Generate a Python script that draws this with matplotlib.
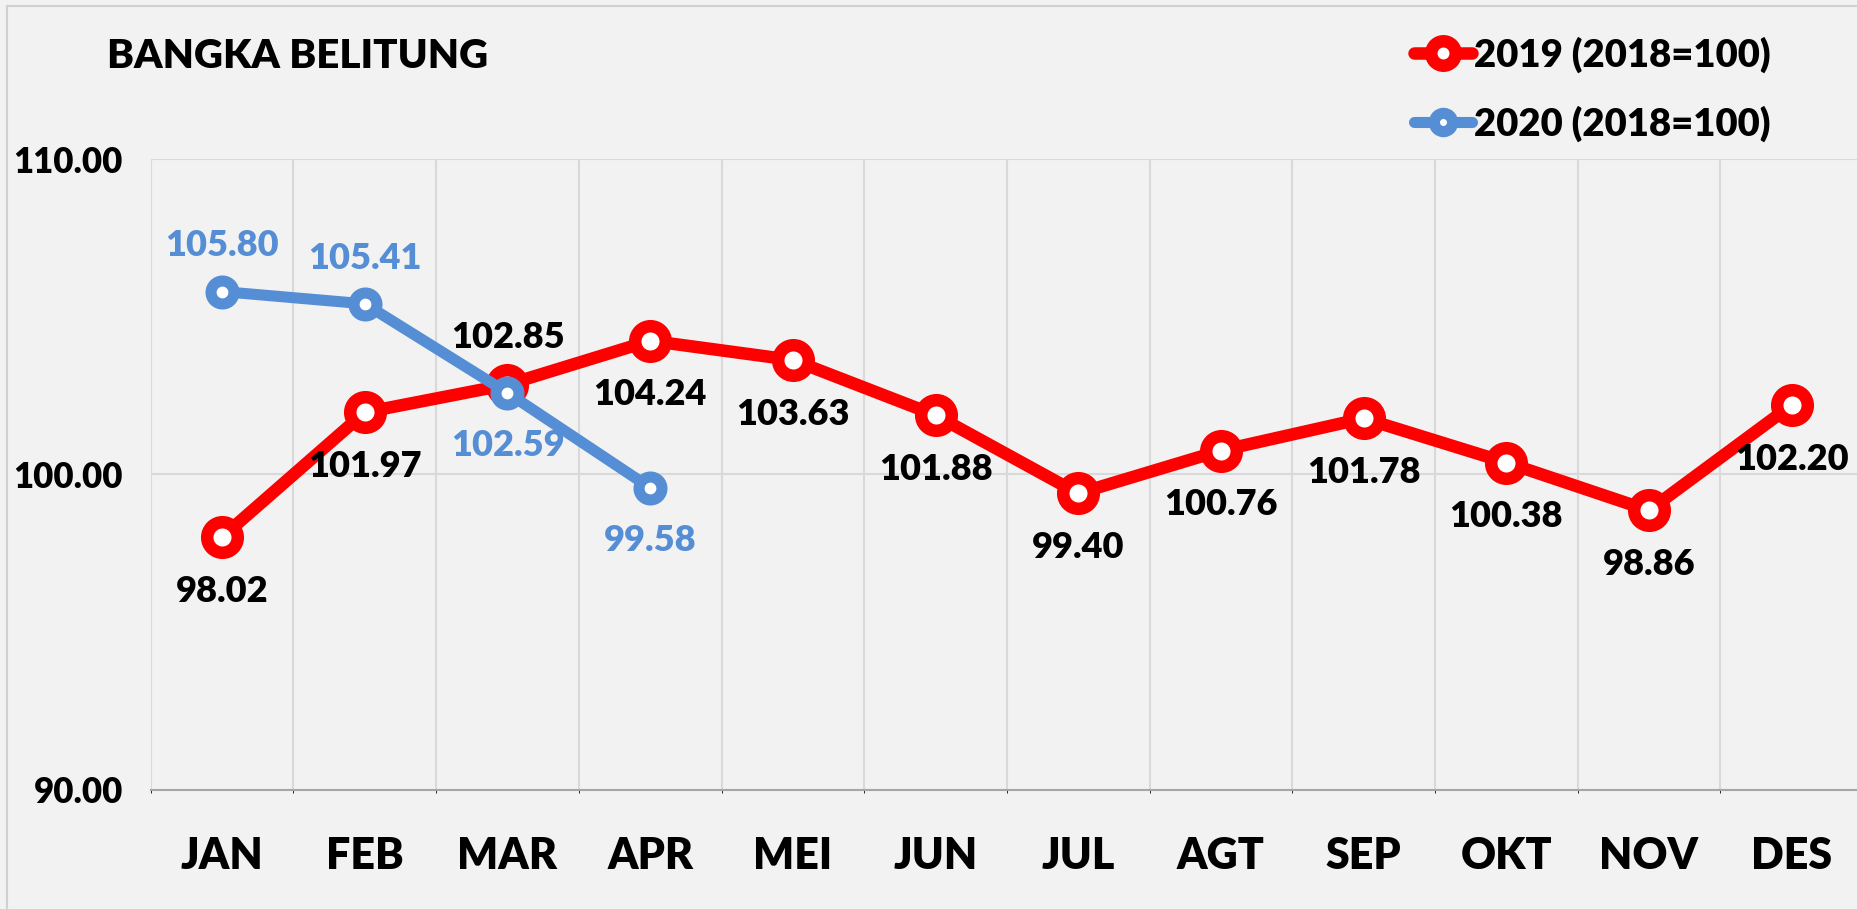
import matplotlib.pyplot as plt
from matplotlib.patches import Rectangle

plt.rcParams['font.family'] = ['Lato', 'DejaVu Sans']
plt.rcParams['font.weight'] = 'heavy'

months = ['JAN', 'FEB', 'MAR', 'APR', 'MEI', 'JUN', 'JUL', 'AGT', 'SEP', 'OKT', 'NOV', 'DES']
vals_2019 = [98.02, 101.97, 102.85, 104.24, 103.63, 101.88, 99.40, 100.76, 101.78, 100.38, 98.86, 102.20]
vals_2020 = [105.80, 105.41, 102.59, 99.58]
pos_2019 = ['below', 'below', 'above', 'below', 'below', 'below', 'below', 'below', 'below', 'below', 'below', 'below']
pos_2020 = ['above', 'above', 'below', 'below']
yticks = [90, 100, 110]

red = '#FF0000'
blue = '#558ED5'
bg = '#F2F2F2'
W = 'heavy'

fig = plt.figure(figsize=(18.57, 9.09), dpi=100, facecolor=bg)
ax = fig.add_axes([0.0812, 0.131, 0.922, 0.694])
ax.set_facecolor(bg)

# outer chart border
fig.add_artist(Rectangle((7 / 1857, -0.1), 1.2, 1 - 6 / 909 + 0.1, transform=fig.transFigure,
                         fill=False, edgecolor='#D0D0D0', linewidth=1.5))

x19 = list(range(len(vals_2019)))
x20 = list(range(len(vals_2020)))

l1, = ax.plot(x19, vals_2019, color=red, linewidth=9, marker='o', markersize=22,
              markerfacecolor='white', markeredgecolor=red, markeredgewidth=9,
              solid_capstyle='round', label='2019 (2018=100)', zorder=3)
l2, = ax.plot(x20, vals_2020, color=blue, linewidth=8, marker='o', markersize=16.5,
              markerfacecolor='white', markeredgecolor=blue, markeredgewidth=8,
              solid_capstyle='round', label='2020 (2018=100)', zorder=4)

for xi, v, p in zip(x19, vals_2019, pos_2019):
    dy = 34 if p == 'above' else -39
    ax.annotate(f'{v:.2f}', (xi, v), xytext=(0, dy), textcoords='offset points',
                ha='center', va='center', fontsize=26, fontweight=W, color='black', zorder=5)
for xi, v, p in zip(x20, vals_2020, pos_2020):
    dy = 33 if p == 'above' else -38
    ax.annotate(f'{v:.2f}', (xi, v), xytext=(0, dy), textcoords='offset points',
                ha='center', va='center', fontsize=26, fontweight=W, color=blue, zorder=5)

ax.set_xlim(-0.5, len(months) - 0.5)
ax.set_ylim(90, 110)
ax.set_xticks(x19)
ax.set_xticklabels(months, fontsize=31, fontweight=W)
ax.set_yticks(yticks)
ax.set_yticklabels([f'{t:.2f}' for t in yticks], fontsize=25, fontweight=W)
ax.tick_params(axis='both', length=0)
ax.tick_params(axis='x', pad=33)
ax.tick_params(axis='y', pad=20)

# category separators and horizontal grid
ax.set_xticks([i + 0.5 for i in range(-1, len(months))], minor=True)
ax.grid(True, which='minor', axis='x', color='#D9D9D9', linewidth=1.5)
ax.grid(True, which='major', axis='y', color='#D9D9D9', linewidth=1.5)
ax.set_axisbelow(True)
for s in ['top', 'right', 'left']:
    ax.spines[s].set_visible(False)
ax.spines['bottom'].set_color('#A6A6A6')
ax.spines['bottom'].set_linewidth(1.5)

fig.text(107 / 1857, 1 - 57 / 909, 'BANGKA BELITUNG', fontsize=29, fontweight=W,
         ha='left', va='center')

leg = fig.legend(handles=[l1, l2], loc='upper left', bbox_to_anchor=(1380 / 1857, 1 - 2 / 909),
                 frameon=False, prop={'weight': W, 'size': 27.5},
                 markerscale=0.8, handlelength=1.5, handletextpad=0.05, labelspacing=0.85)

fig.savefig('out.png', dpi=100, facecolor=bg)
